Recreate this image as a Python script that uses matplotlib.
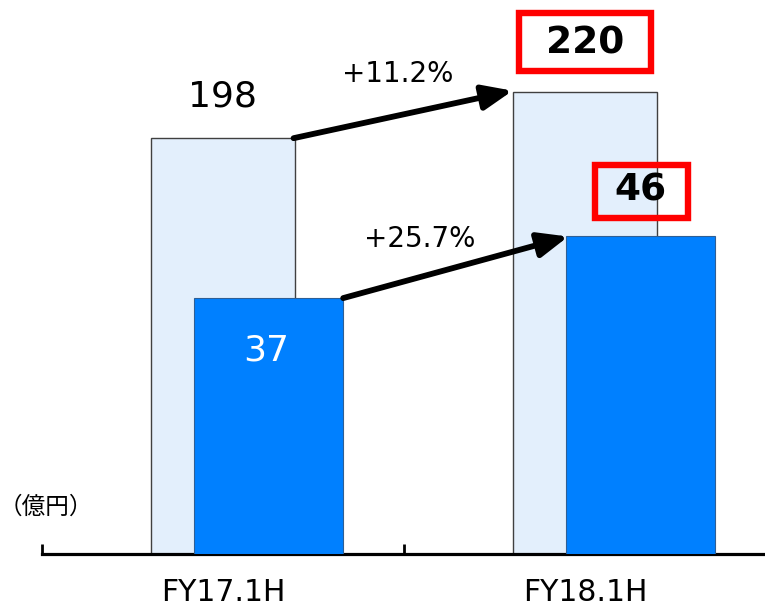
import matplotlib.pyplot as plt
from matplotlib.patches import Rectangle, FancyArrowPatch
import numpy as np

plt.rcParams['font.family'] = ['DejaVu Sans', 'Noto Sans CJK JP']

periods = ["FY17.1H", "FY18.1H"]
total_vals = [198, 220]      # light bars (primary scale)
part_vals = [37, 46]         # dark bars (secondary scale)
total_growth = "+11.2%"
part_growth = "+25.7%"
unit_label = "（億円）"

light_color = "#E3EFFC"
dark_color = "#0080FF"

x = np.arange(len(periods))

fig = plt.figure(figsize=(7.65, 6.11), dpi=100)
rect = [42 / 765, 57 / 611, 724 / 765, 554 / 611]
ax = fig.add_axes(rect)
# secondary axes with its own category spacing (like a PowerPoint secondary axis)
ax2 = fig.add_axes(rect, sharex=None)
ax2.patch.set_visible(False)

ax.bar(x, total_vals, width=0.40, color=light_color, edgecolor="#404040", linewidth=1)
ax2.bar(x, part_vals, width=0.40, color=dark_color, edgecolor="#2f5f95", linewidth=0.8)

ax.set_xlim(-0.5, 1.5)
ax.set_ylim(0, 263.8)
ax2.set_xlim(-0.61, 1.337)
ax2.set_ylim(0, 80.1)

for s in ["top", "left", "right"]:
    ax.spines[s].set_visible(False)
for s in ax2.spines.values():
    s.set_visible(False)
ax.spines["bottom"].set_linewidth(2.3)
ax.set_yticks([])
ax2.set_yticks([])
ax2.set_xticks([])
ax.set_xticks([-0.5, 0.5])
ax.set_xticklabels([])
ax.tick_params(axis="x", which="major", direction="in", length=7, width=2)
ax.set_xticks(x, labels=periods, minor=True)
ax.tick_params(axis="x", which="minor", length=0, pad=17, labelsize=21.5)

# value labels
ax.annotate(str(total_vals[0]), (x[0], total_vals[0]), xytext=(0, 30),
            textcoords="offset points", ha="center", va="center", fontsize=26)
ax.annotate(str(total_vals[1]), (x[1], total_vals[1]), xytext=(0, 35),
            textcoords="offset points", ha="center", va="center", fontsize=27,
            fontweight="bold")
ax2.annotate(str(part_vals[0]), (x[0], part_vals[0]), xytext=(-2, -38),
             textcoords="offset points", ha="center", va="center", fontsize=26,
             color="white")
ax2.annotate(str(part_vals[1]), (x[1], part_vals[1]), xytext=(0, 33),
             textcoords="offset points", ha="center", va="center", fontsize=27,
             fontweight="bold")

# red boxes around the latest values
ax.add_patch(Rectangle((x[1] - 0.182, total_vals[1] + 10.0), 0.365, 27.4,
                       fill=False, edgecolor="#FF0000", linewidth=4.6,
                       clip_on=False, zorder=5))
ax2.add_patch(Rectangle((x[1] + 0.003 - 0.125, part_vals[1] + 2.6), 0.25, 7.6,
                        fill=False, edgecolor="#FF0000", linewidth=4.6,
                        clip_on=False, zorder=5))


def data_to_fig(axis, px, py):
    return fig.transFigure.inverted().transform(axis.transData.transform((px, py)))


a0 = data_to_fig(ax, x[0] + 0.195, total_vals[0])
a1 = data_to_fig(ax, x[1] - 0.20, total_vals[1] + 0.6)
b0 = data_to_fig(ax2, x[0] + 0.20, part_vals[0])
b1 = data_to_fig(ax2, x[1] - 0.195, part_vals[1] - 0.1)

for start, end in [(a0, a1), (b0, b1)]:
    fig.add_artist(FancyArrowPatch(
        start, end, transform=fig.transFigure,
        arrowstyle="-|>,head_length=0.6,head_width=0.25",
        mutation_scale=30, linewidth=4.2, color="black",
        shrinkA=0, shrinkB=0, zorder=6))

fig.text((a0[0] + a1[0]) / 2 - 0.007, (a0[1] + a1[1]) / 2 + 0.066, total_growth,
         ha="center", va="center", fontsize=20)
fig.text((b0[0] + b1[0]) / 2 - 0.047, (b0[1] + b1[1]) / 2 + 0.047, part_growth,
         ha="center", va="center", fontsize=20)

ax.text(-0.06, 0.085, unit_label, transform=ax.transAxes, ha="left", va="center",
        fontsize=17, family=["Noto Sans CJK JP"])

fig.savefig("out.png", dpi=100)
